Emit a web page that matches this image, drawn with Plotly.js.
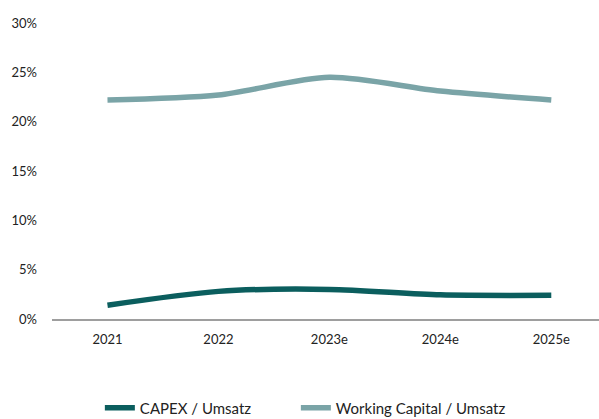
<!DOCTYPE html>
<html>
<head>
<meta charset="utf-8">
<script src="https://cdn.plot.ly/plotly-3.0.1.min.js"></script>
<style>html,body{margin:0;padding:0;background:#fff;}#chart{width:599px;height:419px;}</style>
</head>
<body>
<div id="chart"></div>
<script>
const categories = ["2021", "2022", "2023e", "2024e", "2025e"];
const capexUmsatz = [0.014, 0.028, 0.030, 0.0245, 0.024];
const wcUmsatz = [0.222, 0.227, 0.245, 0.231, 0.222];
const seriesNames = ["CAPEX / Umsatz", "Working Capital / Umsatz"];
const yTicks = [0, 0.05, 0.10, 0.15, 0.20, 0.25, 0.30];

const traces = [
  {x: categories, y: capexUmsatz, name: seriesNames[0], type: "scatter", mode: "lines",
   legendwidth: 151,
   line: {color: "#0b5e5e", width: 5.5, shape: "spline", smoothing: 0.8}},
  {x: categories, y: wcUmsatz, name: seriesNames[1], type: "scatter", mode: "lines",
   legendwidth: 180,
   line: {color: "#7aa4a7", width: 5.5, shape: "spline", smoothing: 0.8}}
];

const layout = {
  width: 599, height: 419,
  margin: {l: 52, r: 0, t: 23, b: 100},
  paper_bgcolor: "#fff", plot_bgcolor: "#fff",
  font: {family: "Lato, 'Open Sans', sans-serif", size: 13, color: "#222"},
  showlegend: true,
  legend: {orientation: "h", xref: "paper", x: 0.0875, xanchor: "left",
           yref: "container", y: 0.026, yanchor: "middle",
           font: {size: 15, color: "#222"}, traceorder: "normal"},
  xaxis: {type: "category", range: [-0.5, 4.43], showgrid: false, zeroline: false,
          showline: true, linecolor: "#9e9e9e", linewidth: 1.5, ticks: "", ticklabelstandoff: 8,
          fixedrange: true},
  yaxis: {range: [0, 0.30], tickvals: yTicks, tickformat: ".0%", showgrid: false, zeroline: false,
          showline: false, ticks: "", ticklabelstandoff: 14, fixedrange: true}
};

Plotly.newPlot("chart", traces, layout, {displayModeBar: false, staticPlot: true});
</script>
</body>
</html>
